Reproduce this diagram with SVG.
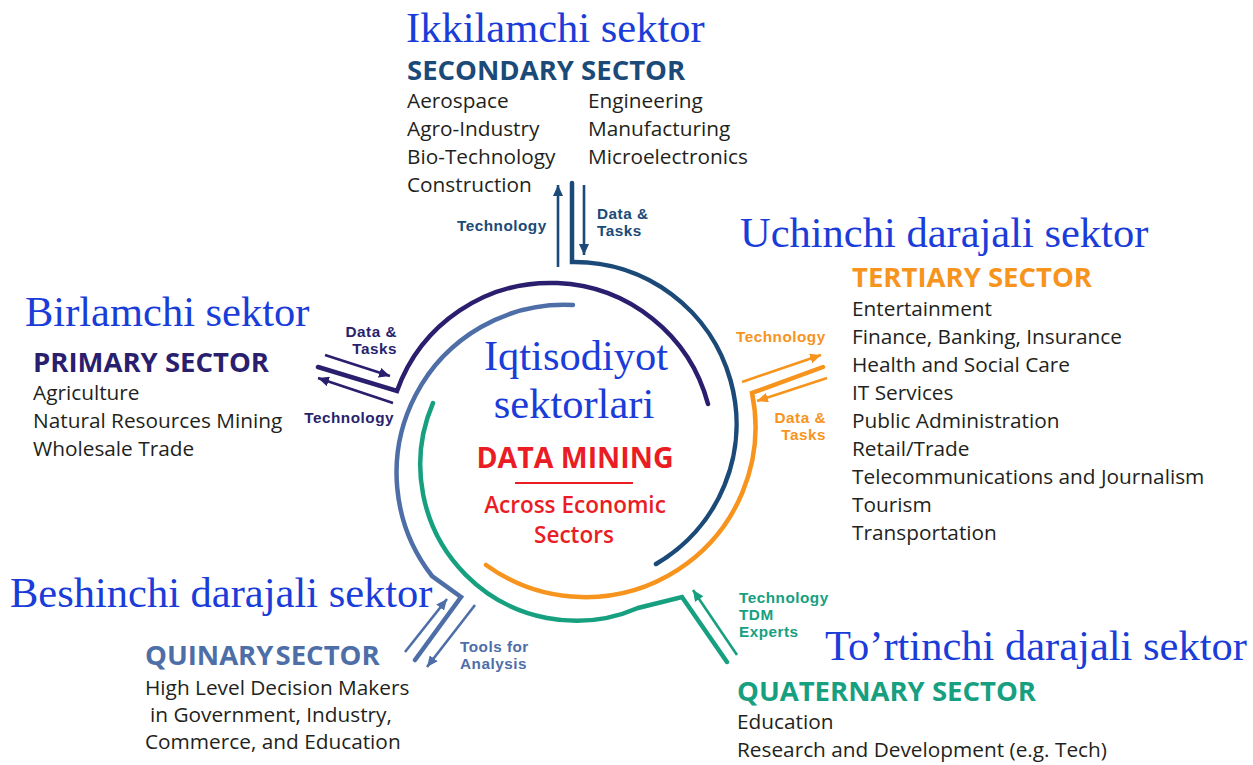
<svg xmlns="http://www.w3.org/2000/svg" width="1253" height="765" viewBox="0 0 1253 765">
<style>
.uz{font-family:"Liberation Serif","Times New Roman",serif;font-size:42.5px;fill:#1a3cd8}
.ttl{font-family:"Open Sans","Noto Sans",sans-serif;font-weight:700;font-size:27.5px}
.body{font-family:"Open Sans","Noto Sans",sans-serif;font-size:20.8px;fill:#231f20}
.lbl{font-family:"Liberation Sans",Arial,sans-serif;font-weight:700;font-size:15.3px;letter-spacing:0.5px}
.arc{fill:none;stroke-width:4.5;stroke-linecap:round;stroke-linejoin:miter}
.arr{fill:none;stroke-width:2.6}
.navy{stroke:#1b4a78}.indigo{stroke:#2a1f6e}.orange{stroke:#f7941e}.slate{stroke:#4e6ea8}.green{stroke:#17a07f}
.fnavy{fill:#1b4a78}.findigo{fill:#2a1f6e}.forange{fill:#f7941e}.fslate{fill:#4e6ea8}.fgreen{fill:#17a07f}
.red{fill:#ea1d25;font-family:"Open Sans","Noto Sans",sans-serif}
</style>
<defs>
<marker id="mNavy" markerUnits="userSpaceOnUse" markerWidth="12" markerHeight="10" refX="11" refY="5" orient="auto"><path d="M0,0 L11,5 L0,10 z" fill="#1b4a78"/></marker>
<marker id="mIndigo" markerUnits="userSpaceOnUse" markerWidth="12" markerHeight="10" refX="11" refY="5" orient="auto"><path d="M0,0 L11,5 L0,10 z" fill="#2a1f6e"/></marker>
<marker id="mOrange" markerUnits="userSpaceOnUse" markerWidth="12" markerHeight="10" refX="11" refY="5" orient="auto"><path d="M0,0 L11,5 L0,10 z" fill="#f7941e"/></marker>
<marker id="mSlate" markerUnits="userSpaceOnUse" markerWidth="12" markerHeight="10" refX="11" refY="5" orient="auto"><path d="M0,0 L11,5 L0,10 z" fill="#4e6ea8"/></marker>
<marker id="mGreen" markerUnits="userSpaceOnUse" markerWidth="12" markerHeight="10" refX="11" refY="5" orient="auto"><path d="M0,0 L11,5 L0,10 z" fill="#17a07f"/></marker>
</defs>
<rect width="1253" height="765" fill="#ffffff"/>

<g id="connectors">
  <path class="arc navy" d="M572,183 L572,262 A162,162 0 0 1 656,564"/>
  <path class="arc indigo" d="M318,367 L397,391 A163,163 0 0 1 708,404"/>
  <path class="arc slate" d="M573,305 A168,168 0 0 0 432,576 L461,597 L415,660"/>
  <path class="arc green" d="M433,403 A156,156 0 0 0 638,608 L682,597 L727,662"/>
  <path class="arc orange" d="M486,565 A170,170 0 0 0 752,393 L823,367"/>
  <line class="arr navy" x1="558" y1="267" x2="558" y2="185" marker-end="url(#mNavy)"/>
  <line class="arr navy" x1="584" y1="185" x2="584" y2="255" marker-end="url(#mNavy)"/>
  <line class="arr indigo" x1="325" y1="355" x2="390" y2="376" marker-end="url(#mIndigo)"/>
  <line class="arr indigo" x1="393" y1="403" x2="318" y2="378" marker-end="url(#mIndigo)"/>
  <line class="arr orange" x1="742" y1="382" x2="821" y2="355" marker-end="url(#mOrange)"/>
  <line class="arr orange" x1="827" y1="378" x2="757" y2="401" marker-end="url(#mOrange)"/>
  <line class="arr slate" x1="405" y1="652" x2="447" y2="599" marker-end="url(#mSlate)"/>
  <line class="arr slate" x1="475" y1="605" x2="427" y2="667" marker-end="url(#mSlate)"/>
  <line class="arr green" x1="737" y1="655" x2="693" y2="590" marker-end="url(#mGreen)"/>
  <text class="lbl fnavy" x="457" y="231">Technology</text>
  <text class="lbl fnavy" x="597" y="219">Data &amp;<tspan x="597" dy="17">Tasks</tspan></text>
  <text class="lbl findigo" x="397" y="337" text-anchor="end">Data &amp;<tspan x="397" dy="17">Tasks</tspan></text>
  <text class="lbl findigo" x="394" y="423" text-anchor="end">Technology</text>
  <text class="lbl forange" x="736" y="342">Technology</text>
  <text class="lbl forange" x="826" y="423" text-anchor="end">Data &amp;<tspan x="826" dy="17">Tasks</tspan></text>
  <text class="lbl fslate" x="460" y="652">Tools for<tspan x="460" dy="17">Analysis</tspan></text>
  <text class="lbl fgreen" x="739" y="603">Technology<tspan x="739" dy="17">TDM</tspan><tspan x="739" dy="17">Experts</tspan></text>
</g>

<g id="center">
  <text class="uz" x="576" y="370" text-anchor="middle">Iqtisodiyot</text>
  <text class="uz" x="574" y="418" text-anchor="middle">sektorlari</text>
  <text class="red" x="575" y="468" text-anchor="middle" font-size="28.5" font-weight="700">DATA MINING</text>
  <line x1="515" y1="483" x2="633" y2="483" stroke="#ea1d25" stroke-width="2"/>
  <text class="red" x="575" y="513" text-anchor="middle" font-size="22.5" font-weight="600">Across Economic</text>
  <text class="red" x="574" y="543" text-anchor="middle" font-size="22.5" font-weight="600">Sectors</text>
</g>

<g id="secondary">
  <text class="uz" x="406" y="42">Ikkilamchi sektor</text>
  <text class="ttl fnavy" x="407" y="80">SECONDARY SECTOR</text>
  <text class="body" x="407" y="108">Aerospace</text>
  <text class="body" x="407" y="136">Agro-Industry</text>
  <text class="body" x="407" y="164">Bio-Technology</text>
  <text class="body" x="407" y="192">Construction</text>
  <text class="body" x="588" y="108">Engineering</text>
  <text class="body" x="588" y="136">Manufacturing</text>
  <text class="body" x="588" y="164">Microelectronics</text>
</g>

<g id="tertiary">
  <text class="uz" x="740" y="247">Uchinchi darajali sektor</text>
  <text class="ttl forange" x="852" y="287">TERTIARY SECTOR</text>
  <text class="body" x="852" y="316">Entertainment</text>
  <text class="body" x="852" y="344">Finance, Banking, Insurance</text>
  <text class="body" x="852" y="372">Health and Social Care</text>
  <text class="body" x="852" y="400">IT Services</text>
  <text class="body" x="852" y="428">Public Administration</text>
  <text class="body" x="852" y="456">Retail/Trade</text>
  <text class="body" x="852" y="484">Telecommunications and Journalism</text>
  <text class="body" x="852" y="512">Tourism</text>
  <text class="body" x="852" y="540">Transportation</text>
</g>

<g id="primary">
  <text class="uz" x="25" y="326">Birlamchi sektor</text>
  <text class="ttl findigo" x="33" y="372">PRIMARY SECTOR</text>
  <text class="body" x="33" y="400">Agriculture</text>
  <text class="body" x="33" y="428">Natural Resources Mining</text>
  <text class="body" x="33" y="456">Wholesale Trade</text>
</g>

<g id="quinary">
  <text class="uz" x="10" y="607">Beshinchi darajali sektor</text>
  <text class="ttl fslate" x="145" y="665" word-spacing="-5">QUINARY SECTOR</text>
  <text class="body" x="145" y="695">High Level Decision Makers</text>
  <text class="body" x="150" y="722">in Government, Industry,</text>
  <text class="body" x="145" y="749">Commerce, and Education</text>
</g>

<g id="quaternary">
  <text class="uz" x="825" y="660">To’rtinchi darajali sektor</text>
  <text class="ttl fgreen" x="737" y="701">QUATERNARY SECTOR</text>
  <text class="body" x="737" y="729">Education</text>
  <text class="body" x="737" y="757">Research and Development (e.g. Tech)</text>
</g>
</svg>
